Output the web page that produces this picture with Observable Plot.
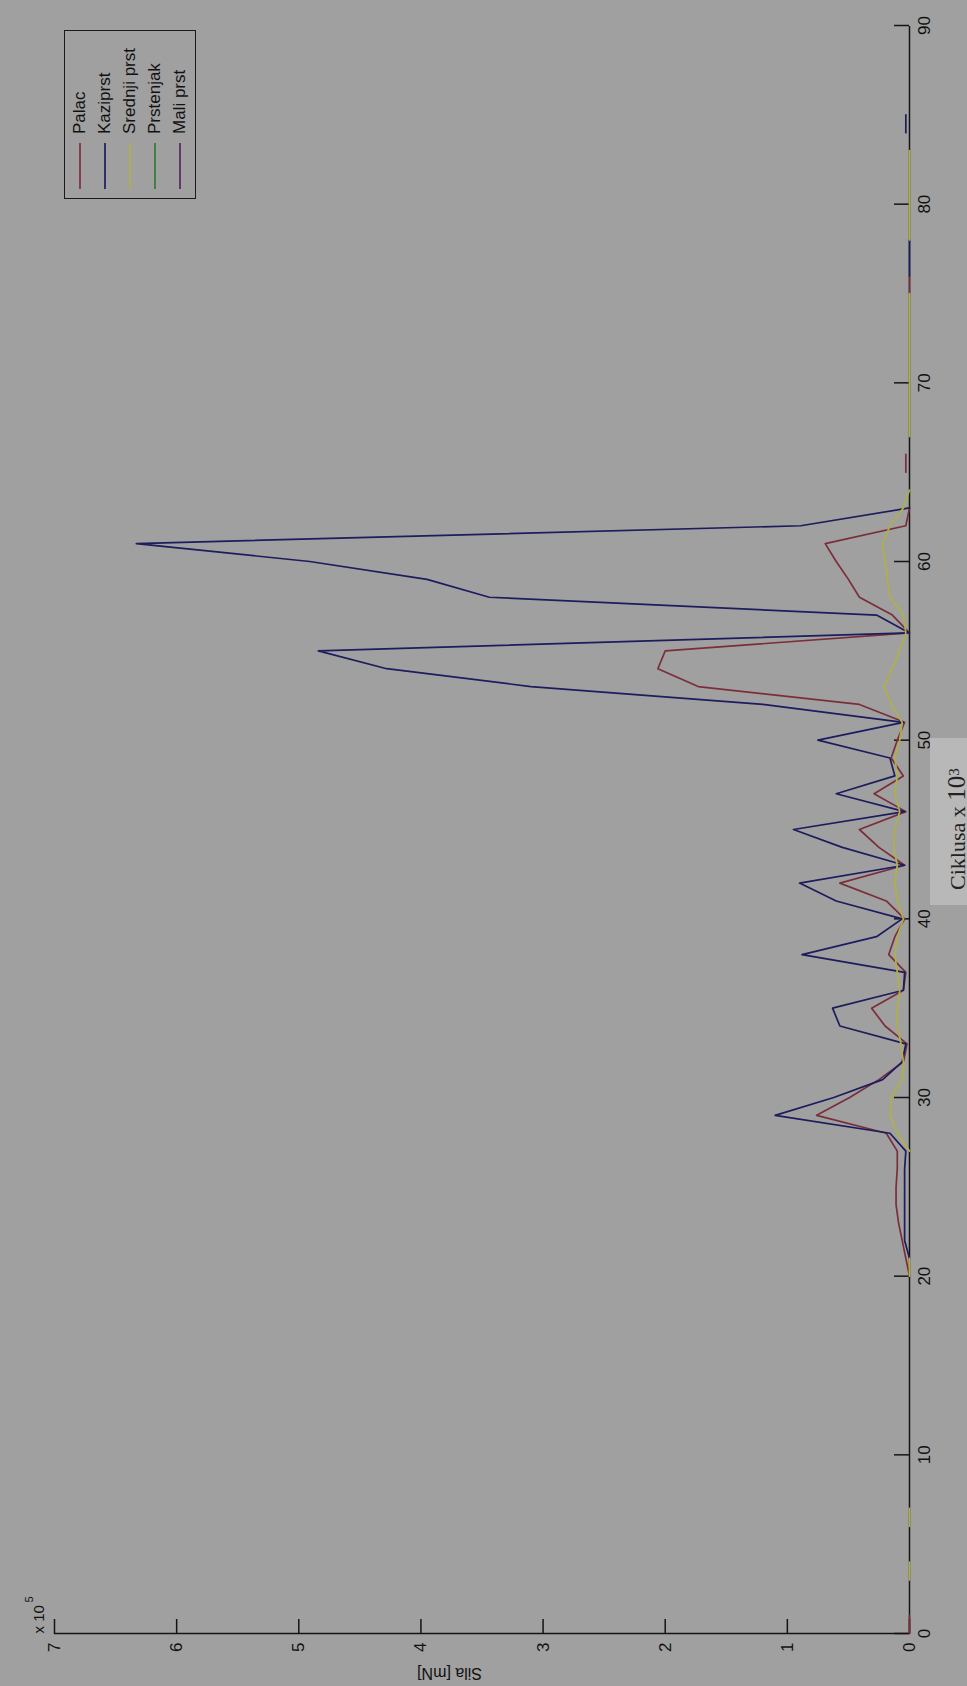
<!DOCTYPE html>
<html><head><meta charset="utf-8">
<script src="https://cdn.jsdelivr.net/npm/d3@7"></script>
<script src="https://cdn.jsdelivr.net/npm/@observablehq/plot@0.6"></script>
<style>
html,body{margin:0;padding:0;width:967px;height:1686px;overflow:hidden;background:#a0a0a0;}
#wrap{position:absolute;left:0;top:0;width:1686px;height:967px;transform-origin:0 0;transform:translate(0px,1686px) rotate(-90deg);}
#chart{position:absolute;left:0;top:0;}
#legend{position:absolute;left:1487px;top:64px;width:169px;height:132px;border:1px solid #1a1a1a;box-sizing:border-box;font:17px "Liberation Sans",Arial,sans-serif;color:#111;padding-top:2px;}
.row{height:25px;display:flex;align-items:center;white-space:nowrap;}
.row svg{margin-left:9px;margin-right:9px;}
#xlab{position:absolute;left:781px;top:930px;width:167px;height:37px;background:#b8b8b8;font-family:"Liberation Serif","Times New Roman",serif;color:#222;white-space:nowrap;}
#xlab div{position:absolute;left:15px;top:6px;line-height:37px;}
</style></head><body>
<div id="wrap"><div id="chart"></div><div id="legend"></div><div id="xlab"></div></div>
<script>
const _ = null;
// cycles (x 10^3)
const cycles = [0,1,2,3,4,5,6,7,8,9,10,11,12,13,14,15,16,17,18,19,20,21,22,23,24,25,26,27,28,29,30,31,32,33,34,35,36,37,38,39,40,41,42,43,44,45,46,47,48,49,50,51,52,53,54,55,56,57,58,59,60,61,62,63,64,65,66,67,68,69,70,71,72,73,74,75,76,77,78,79,80,81,82,83,84,85,86,87,88,89,90];
// force values (x 10^5 mN), null = no data
const palac = [0,0, _,_,_,_,_,_,_,_,_,_,_,_,_,_,_,_,_,_, 0,
  0.03,0.06,0.09,0.11,0.11,0.10,0.10,
  0.19,0.76,0.49,0.25,0.05,0.02,
  0.20,0.31,0.05,0.03,0.17,0.12,0.04,
  0.19,0.57,0.04,0.25,0.41,0.03,0.29,
  0.05,0.15,0.10,0.04,0.41,1.73,2.06,2.00,
  0,0.14,0.41,0.50,0.60,0.69,0.03,0,
  _,0.03,0.03, _,_,_,_,_,_,_,_, 0,0, _,_,_,_,_,_,_,_,_,_,_,_,_,_];
const kaziprst = [_,_,_,_,_,_,_,_,_,_,_,_,_,_,_,_,_,_,_,_,_,
  0,0.04,0.04,0.04,0.04,0.04,0.03,
  0.16,1.10,0.62,0.22,0.06,0.03,
  0.57,0.63,0.05,0.04,0.88,0.27,0.06,
  0.60,0.90,0.04,0.55,0.95,0.04,0.60,
  0.12,0.16,0.75,0.05,1.20,3.10,4.28,4.84,
  0,0.27,3.44,3.95,4.91,6.33,0.89,0,
  _,_,_,_,_,_,_,_,_,_,_,_, 0,0,0, _,_,_,_,_, 0.03,0.03, _,_,_,_,_];
const srednjiPrst = [_,_,_, 0,0, _, 0,0, _,_,_,_,_,_,_,_,_,_,_,_, 0,0, _,_,_,_,_, 0,
  0.10,0.16,0.15,0.06,0.05,0.07,
  0.10,0.10,0.08,0.10,0.12,0.10,0.05,
  0.10,0.12,0.10,0.13,0.12,0.08,0.12,
  0.10,0.12,0.08,0.06,0.15,0.21,0.14,0.08,
  0.03,0.05,0.16,0.18,0.20,0.22,0.16,0.05,
  0, _,_, 0,0,0,0,0,0,0,0,0, _,_, 0,0,0,0,0,0, _,_,_,_,_,_,_];
const prstenjak = [];
const maliPrst = [];

const seriesNames = ["Palac","Kaziprst","Srednji prst","Prstenjak","Mali prst"];
const seriesColors = ["#7a2e3a","#1c1c5e","#b0b048","#2f7a35","#5a2463"];
const seriesValues = [palac, kaziprst, srednjiPrst, prstenjak, maliPrst];
const xTicks = [0,10,20,30,40,50,60,70,80,90];
const yTicks = [0,1,2,3,4,5,6,7];
const yExp = 5;
const xLabelParts = ["Ciklusa x ", "10", "3"];
const yLabel = "Sila [mN]";

const W = 1686, H = 967, mL = 52, mR = 26, mT = 54, mB = 58;
const innerW = W - mL - mR, innerH = H - mT - mB, tickLen = 15;
const scale = 10 ** yExp;

const table = [];
seriesValues.forEach((vals, s) => {
  vals.forEach((v, i) => table.push({series: seriesNames[s], cycle: cycles[i], value: v == null ? NaN : v * scale}));
});

const axisStyle = {stroke: "#141414", strokeWidth: 1.5};
const marks = [
  Plot.ruleY([0], axisStyle),
  Plot.ruleX([0], axisStyle),
  Plot.ruleX(xTicks, {x: d => d, insetTop: innerH - tickLen, ...axisStyle}),
  Plot.ruleY(yTicks.map(d => d * scale), {y: d => d, insetRight: innerW - tickLen, ...axisStyle}),
  Plot.axisX({ticks: xTicks, tickSize: 0, tickPadding: 8, label: null, fontSize: 17}),
  Plot.axisY({ticks: yTicks.map(d => d * scale), tickSize: 0, tickPadding: 9, tickFormat: d => d / scale, label: null, fontSize: 17}),
  Plot.text([yLabel], {frameAnchor: "left", rotate: -90, dx: -40, fontSize: 16, fill: "#111"}),
  Plot.text(["x 10"], {frameAnchor: "top-left", textAnchor: "start", lineAnchor: "bottom", dy: -11, fontSize: 15, fill: "#111"}),
  Plot.text([String(yExp)], {frameAnchor: "top-left", textAnchor: "start", lineAnchor: "bottom", dx: 31, dy: -22, fontSize: 11, fill: "#111"})
];
seriesNames.forEach((name, s) => {
  marks.push(Plot.line(table.filter(d => d.series === name), {x: "cycle", y: "value", stroke: seriesColors[s], strokeWidth: 1.7}));
});

const chart = Plot.plot({
  width: W, height: H, marginLeft: mL, marginRight: mR, marginTop: mT, marginBottom: mB,
  style: {background: "transparent", fontFamily: "'Liberation Sans', Arial, sans-serif", color: "#111"},
  x: {domain: [0, 90]},
  y: {domain: [0, 7 * scale]},
  marks
});
document.getElementById("chart").appendChild(chart);

// legend
const leg = d3.select("#legend");
seriesNames.forEach((name, s) => {
  const row = leg.append("div").attr("class", "row");
  const svg = row.append("svg").attr("width", 46).attr("height", 10);
  svg.append("line").attr("x1", 0).attr("x2", 46).attr("y1", 5).attr("y2", 5).attr("stroke", seriesColors[s]).attr("stroke-width", 1.7);
  row.append("span").text(name);
});

// x label box
const xl = d3.select("#xlab").append("div");
xl.append("span").style("font-size", "22px").text(xLabelParts[0]);
xl.append("span").style("font-size", "25px").text(xLabelParts[1]);
xl.append("sup").style("font-size", "15px").text(xLabelParts[2]);
</script>
</body></html>
